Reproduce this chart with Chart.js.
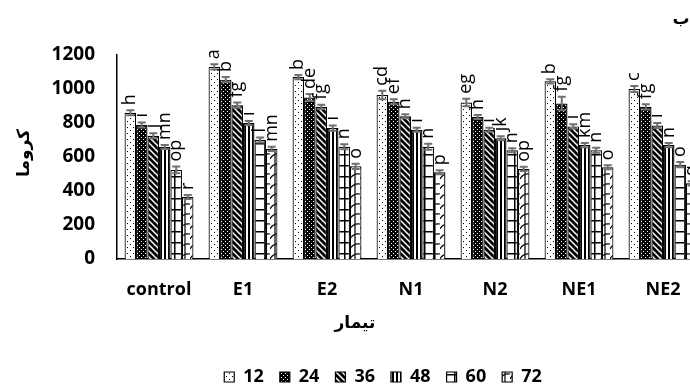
<!DOCTYPE html>
<html>
<head>
<meta charset="utf-8">
<script src="https://cdn.jsdelivr.net/npm/chart.js@4.4.1/dist/chart.umd.min.js"></script>
<style>
  html, body { margin: 0; padding: 0; background: #fff; overflow: hidden; }
  #wrap { width: 766px; height: 390px; }
</style>
</head>
<body>
<div id="wrap"><canvas id="chroma" width="766" height="390"></canvas></div>
<script>
const treatments = ["control", "E1", "E2", "N1", "N2", "NE1", "NE2"];
const hours = ["12", "24", "36", "48", "60", "72"];
const yTicks = [0, 200, 400, 600, 800, 1000, 1200];

// mean chroma for each storage time, one value per treatment
const h12 = [860, 1130, 1070, 965, 920, 1045, 1000];
const h24 = [788, 1055, 950, 925, 835, 915, 895];
const h36 = [725, 905, 895, 840, 760, 780, 785];
const h48 = [659, 800, 770, 760, 710, 670, 670];
const h60 = [524, 700, 660, 660, 640, 640, 555];
const h72 = [365, 648, 545, 510, 530, 540, 445];

// standard errors
const e12 = [15, 15, 12, 25, 22, 12, 18];
const e24 = [15, 15, 20, 15, 12, 40, 15];
const e36 = [15, 15, 12, 12, 12, 12, 15];
const e48 = [12, 12, 15, 12, 12, 12, 12];
const e60 = [20, 15, 15, 18, 12, 15, 15];
const e72 = [12, 12, 15, 12, 12, 12, 12];

// Duncan groups
const l12 = ["h", "a", "b", "cd", "eg", "b", "c"];
const l24 = ["i", "b", "de", "ef", "h", "fg", "fg"];
const l36 = ["j", "fg", "fg", "h", "i", "i", "i"];
const l48 = ["mn", "i", "i", "i", "jk", "km", "n"];
const l60 = ["op", "l", "n", "n", "n", "n", "o"];
const l72 = ["r", "mn", "o", "p", "op", "o", "q"];

function makePattern(w, h, draw) {
  const c = document.createElement("canvas");
  c.width = w; c.height = h;
  const g = c.getContext("2d");
  draw(g, w, h);
  return g.createPattern(c, "repeat");
}

const fills = [
  // dotted
  makePattern(6, 6, (g) => {
    g.fillStyle = "#fff"; g.fillRect(0, 0, 6, 6);
    g.fillStyle = "#000"; g.fillRect(1, 1, 1, 1); g.fillRect(4, 4, 1, 1);
  }),
  // dark with light specks
  makePattern(4, 4, (g) => {
    g.fillStyle = "#000"; g.fillRect(0, 0, 4, 4);
    g.fillStyle = "#fff"; g.fillRect(1, 1, 1, 1); g.fillRect(3, 3, 1, 1);
  }),
  // wide downward diagonal
  makePattern(6, 6, (g) => {
    g.fillStyle = "#000"; g.fillRect(0, 0, 6, 6);
    g.strokeStyle = "#fff"; g.lineWidth = 1.5;
    g.beginPath();
    g.moveTo(-1, -1); g.lineTo(7, 7);
    g.moveTo(-4, 2); g.lineTo(2, 8);
    g.moveTo(2, -4); g.lineTo(8, 2);
    g.stroke();
  }),
  // vertical stripes
  makePattern(4, 1, (g) => {
    g.fillStyle = "#fff"; g.fillRect(0, 0, 4, 1);
    g.fillStyle = "#000"; g.fillRect(0, 0, 2, 1);
  }),
  // ladder
  makePattern(10, 11, (g) => {
    g.fillStyle = "#fff"; g.fillRect(0, 0, 10, 11);
    g.fillStyle = "#000"; g.fillRect(0, 0, 10, 1.5); g.fillRect(4, 0, 1.5, 11);
  }),
  // scales
  makePattern(10, 10, (g) => {
    g.fillStyle = "#fff"; g.fillRect(0, 0, 10, 10);
    g.strokeStyle = "#000"; g.lineWidth = 1.2;
    g.beginPath();
    g.moveTo(5, 0); g.lineTo(5, 10);
    g.moveTo(0, 9); g.quadraticCurveTo(3, 3, 10, 4);
    g.stroke();
  })
];

const means = [h12, h24, h36, h48, h60, h72];
const errs = [e12, e24, e36, e48, e60, e72];
const letters = [l12, l24, l36, l48, l60, l72];

const datasets = hours.map((hr, i) => ({
  label: hr,
  data: means[i],
  err: errs[i],
  letters: letters[i],
  backgroundColor: fills[i],
  borderColor: "#000",
  borderWidth: 1.2,
  categoryPercentage: 0.82,
  barPercentage: 1.0
}));

// error bars with group letters above them
const errorBars = {
  id: "errorBars",
  afterDatasetsDraw(chart) {
    const ctx = chart.ctx;
    const y = chart.scales.y;
    chart.data.datasets.forEach((ds, i) => {
      const meta = chart.getDatasetMeta(i);
      meta.data.forEach((bar, j) => {
        const top = y.getPixelForValue(ds.data[j] + ds.err[j]);
        const bot = y.getPixelForValue(ds.data[j] - ds.err[j]);
        ctx.save();
        ctx.strokeStyle = "#707070";
        ctx.lineWidth = 2;
        ctx.beginPath();
        ctx.moveTo(bar.x, top); ctx.lineTo(bar.x, bot);
        ctx.moveTo(bar.x - 4, top); ctx.lineTo(bar.x + 4, top);
        ctx.moveTo(bar.x - 4, bot); ctx.lineTo(bar.x + 4, bot);
        ctx.stroke();
        ctx.translate(bar.x, top - 5);
        ctx.rotate(-Math.PI / 2);
        ctx.fillStyle = "#000";
        ctx.font = "18px 'Open Sans'";
        ctx.textAlign = "left";
        ctx.textBaseline = "middle";
        ctx.fillText(ds.letters[j], 0, 0);
        ctx.restore();
      });
    });
  }
};

const titles = {
  id: "titles",
  afterDraw(chart) {
    const ctx = chart.ctx;
    ctx.save();
    ctx.fillStyle = "#000";
    ctx.font = "bold 17px 'DejaVu Sans'";
    ctx.textAlign = "center";
    ctx.textBaseline = "middle";
    ctx.fillText("تیمار", 355, 324);
    ctx.fillText("ب", 681, 20);
    ctx.translate(25, 153);
    ctx.rotate(-Math.PI / 2);
    ctx.fillText("کروما", 0, 0);
    ctx.restore();
  }
};

new Chart(document.getElementById("chroma"), {
  type: "bar",
  data: { labels: treatments, datasets: datasets },
  plugins: [errorBars, titles],
  options: {
    responsive: false,
    animation: false,
    layout: { padding: { top: 55, right: 0, left: 0, bottom: 0 } },
    plugins: {
      tooltip: { enabled: false },
      legend: {
        position: "bottom",
        maxHeight: 38,
        labels: {
          boxWidth: 10,
          boxHeight: 10,
          padding: 16,
          color: "#000",
          font: { family: "'Open Sans'", size: 18, weight: "bold" }
        }
      }
    },
    scales: {
      x: {
        grid: { display: false },
        border: { color: "#000", width: 1.5 },
        ticks: {
          color: "#000",
          padding: 12,
          font: { family: "'Open Sans'", size: 18, weight: "bold" }
        },
        afterFit: (s) => { s.height = 93; }
      },
      y: {
        min: 0,
        max: 1200,
        grid: { display: false, drawTicks: false },
        border: { color: "#000", width: 1.5 },
        afterBuildTicks: (s) => { s.ticks = yTicks.map((v) => ({ value: v })); },
        ticks: {
          color: "#000",
          padding: 22,
          callback: (v) => String(v),
          font: { family: "'Open Sans'", size: 19, weight: "bold" }
        },
        afterFit: (s) => { s.width = 117; }
      },
      // empty strip on the right so the legend stays centred on the canvas
      pad: {
        position: "right",
        display: true,
        grid: { display: false, drawTicks: false },
        border: { display: false },
        ticks: { display: false },
        afterFit: (s) => { s.width = 61; }
      }
    }
  }
});
</script>
</body>
</html>
